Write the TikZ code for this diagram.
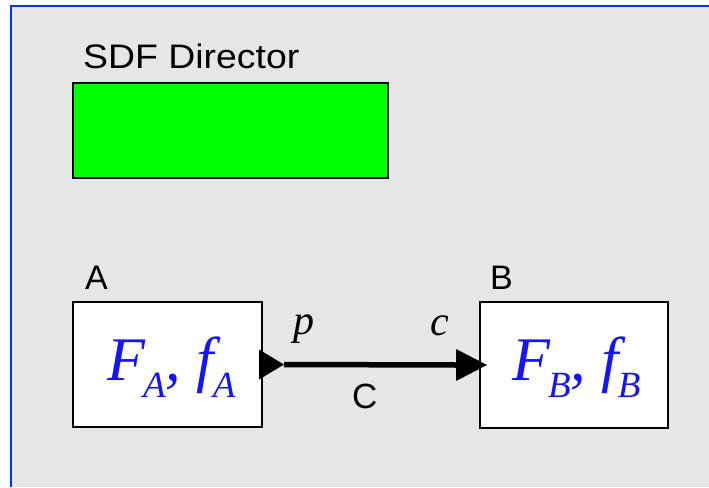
\documentclass[tikz,border=0pt]{standalone}
\usepackage{fontspec}
\setmainfont{Liberation Sans}
\newfontfamily\tms{Liberation Serif}
\usetikzlibrary{arrows.meta}
\definecolor{framebl}{RGB}{0,51,255}
\definecolor{bggray}{RGB}{230,230,230}
\definecolor{dirgreen}{RGB}{0,255,0}
\definecolor{mathbl}{RGB}{20,20,255}
\newcommand{\subsc}[1]{\raisebox{-17pt}{\fontsize{37}{37}\selectfont #1}}
\tikzset{
  actor/.style={draw=black, line width=2pt, fill=white, inner sep=0pt},
  director/.style={draw=black, line width=2pt, fill=dirgreen, inner sep=0pt},
  lbl/.style={inner sep=0pt, anchor=base west, font=\fontsize{34}{34}\selectfont},
  portlbl/.style={inner sep=0pt, anchor=base west, font=\tms\itshape\fontsize{42}{42}\selectfont},
  mathtxt/.style={inner sep=0pt, text=mathbl, font=\tms\itshape\fontsize{62}{62}\selectfont},
  conn/.style={line width=5.5pt, line cap=butt}
}
\begin{document}
\begin{tikzpicture}[x=1pt,y=-1pt]
\useasboundingbox (0,0) rectangle (709,487);
\fill[bggray] (11,6) rectangle (709,487);
\draw[framebl, line width=2pt] (11,487) -- (11,6) -- (709,6);

\node[director, minimum width=315pt, minimum height=95pt] (dir) at (230.5,130.5) {};
\node[lbl] (dirlbl) at (83,69) {\scalebox{1.1}[1]{SDF Director}};

\node[actor, minimum width=189pt, minimum height=125pt] (A) at (167.5,364.5) {};
\node[actor, minimum width=188pt, minimum height=126pt] (B) at (574,365) {};
\node[lbl] (Albl) at (85,289) {A};
\node[lbl] (Blbl) at (490,289) {B};

\node[mathtxt, anchor=base west] (Af) at (107,380) {F\kern-2pt\subsc{A}, f\kern-1pt\subsc{A}};
\node[mathtxt, anchor=base west] (Bf) at (512,380) {F\kern-2pt\subsc{B}, f\kern-1pt\subsc{B}};

% output port of A
\coordinate (pa) at ([xshift=21pt]A.east);
\fill[black] ([xshift=-4pt,yshift=-15pt]A.east) -- ([xshift=-4pt,yshift=15pt]A.east) -- (pa) -- cycle;
% input port of B (tip of connector)
\coordinate (pb) at ([xshift=8pt]B.west);
\coordinate (pbb) at ([xshift=-23pt]B.west);
\draw[conn] (pa) -- (pbb);
\fill[black] ([yshift=-16pt]pbb) -- ([yshift=16pt]pbb) -- (pb) -- cycle;

\node[portlbl] (plbl) at (293,334) {p};
\node[portlbl] (clbl) at (430,335) {c};
\node[lbl, font=\fontsize{35}{35}\selectfont] (Clbl) at (352,408) {C};
\end{tikzpicture}
\end{document}
